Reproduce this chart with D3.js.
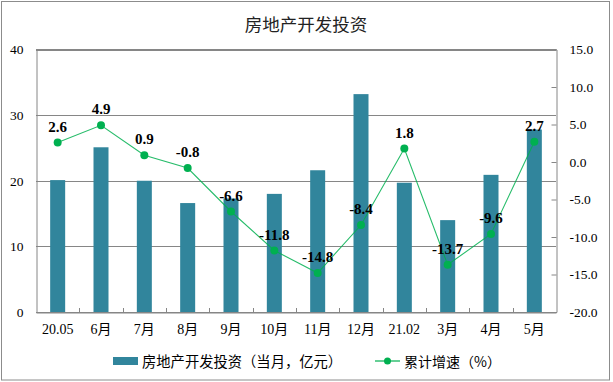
<!DOCTYPE html>
<html><head><meta charset="utf-8">
<script src="https://cdn.jsdelivr.net/npm/d3@7"></script>
<style>
html,body{margin:0;padding:0;background:#fff;}
svg{display:block;}
</style></head>
<body>
<svg id="chart" width="613" height="382"></svg>
<script>
const categories = ["20.05","6月","7月","8月","9月","10月","11月","12月","21.02","3月","4月","5月"];
const investment = [20.1, 25.1, 20.0, 16.6, 17.3, 18.0, 21.6, 33.2, 19.7, 14.0, 20.9, 27.8];
const growth = [2.6, 4.9, 0.9, -0.8, -6.6, -11.8, -14.8, -8.4, 1.8, -13.7, -9.6, 2.7];
const leftTicks = [0, 10, 20, 30, 40];
const rightTicks = [15, 10, 5, 0, -5, -10, -15, -20];
const title = "房地产开发投资";
const barLegend = "房地产开发投资（当月，亿元）";
const lineLegend = "累计增速（%）";

const svg = d3.select("#chart");
const m = {left: 36, right: 556, top: 49.5, bottom: 312};
const numFont = "'Liberation Serif','Times New Roman',serif";
const cjkFont = "'Liberation Serif','Noto Sans CJK SC',serif";
const barColor = "#31859c", lineColor = "#00b050", gridColor = "#868686";

// outer border
svg.append("rect").attr("x",1.5).attr("y",1.5).attr("width",608).attr("height",378.5)
  .attr("fill","#fff").attr("stroke","#8c8c8c").attr("stroke-width",1);

const x = d3.scaleBand().domain(categories).range([m.left, m.right]).paddingInner(0).paddingOuter(0);
const yL = d3.scaleLinear().domain([0,40]).range([m.bottom, m.top]);
const yR = d3.scaleLinear().domain([-20,15]).range([m.bottom, m.top]);

// title
svg.append("text").attr("x",306).attr("y",31).attr("text-anchor","middle")
  .attr("font-family","'Noto Sans CJK SC',sans-serif").attr("font-size",17.5).attr("fill","#222").text(title);

// gridlines
svg.append("g").selectAll("line").data(leftTicks).join("line")
  .attr("x1",m.left).attr("x2",m.right)
  .attr("y1",d=>Math.round(yL(d))+0.5).attr("y2",d=>Math.round(yL(d))+0.5)
  .attr("stroke",gridColor).attr("stroke-width",1);

// bars
const bw = 15;
svg.append("g").selectAll("rect").data(investment).join("rect")
  .attr("x",(d,i)=>x(categories[i]) + x.bandwidth()/2 - bw/2)
  .attr("y",d=>yL(d)).attr("width",bw).attr("height",d=>yL(0)-yL(d))
  .attr("fill",barColor);

// left axis
const axL = d3.axisLeft(yL).tickValues(leftTicks).tickSize(0).tickPadding(13).tickFormat(d3.format("d"));
const gL = svg.append("g").attr("transform",`translate(${m.left+0.5},0)`).call(axL);
gL.select(".domain").attr("stroke",gridColor);
gL.selectAll("text").attr("font-family",numFont).attr("font-size",13.5).attr("fill","#000");

// right axis (inner ticks)
const axR = d3.axisRight(yR).tickValues(rightTicks).tickSize(-5).tickPadding(13).tickFormat(d3.format(".1f"));
const gR = svg.append("g").attr("transform",`translate(${m.right+0.5},0)`).call(axR);
gR.select(".domain").attr("stroke",gridColor);
gR.selectAll(".tick line").attr("stroke",gridColor);
gR.selectAll("text").attr("font-family",numFont).attr("font-size",13.5).attr("fill","#000")
  .text(d=>d3.format(".1f")(d).replace("−","-"));

// bottom axis
const axB = d3.axisBottom(x).tickSize(0).tickPadding(12);
const gB = svg.append("g").attr("transform",`translate(0,${m.bottom+0.5})`).call(axB);
gB.select(".domain").attr("stroke",gridColor);
gB.selectAll("text").attr("font-family",cjkFont).attr("font-size",14).attr("fill","#000");
// inner ticks at category boundaries
svg.append("g").selectAll("line").data(categories.slice(1)).join("line")
  .attr("x1",d=>Math.round(x(d))+0.5).attr("x2",d=>Math.round(x(d))+0.5)
  .attr("y1",m.bottom).attr("y2",m.bottom-4).attr("stroke",gridColor);

// top border of plot
svg.append("line").attr("x1",m.left).attr("x2",m.right+0.5).attr("y1",m.top).attr("y2",m.top).attr("stroke",gridColor);

// line series
const cx = (d,i)=>x(categories[i]) + x.bandwidth()/2;
const line = d3.line().x(cx).y(d=>yR(d));
svg.append("path").datum(growth).attr("d",line).attr("fill","none")
  .attr("stroke",lineColor).attr("stroke-width",1.1).attr("opacity",0.85);
svg.append("g").selectAll("circle").data(growth).join("circle")
  .attr("cx",cx).attr("cy",d=>yR(d)).attr("r",4).attr("fill",lineColor);

// data labels
svg.append("g").selectAll("text").data(growth).join("text")
  .attr("x",cx).attr("y",d=>yR(d)-11).attr("text-anchor","middle")
  .attr("font-family",numFont).attr("font-weight","bold").attr("font-size",15).attr("fill","#000")
  .text(d=>d3.format(".1f")(d).replace("−","-"));

// legend
const lg = svg.append("g");
lg.append("rect").attr("x",113).attr("y",357).attr("width",25).attr("height",8).attr("fill",barColor);
lg.append("text").attr("x",142).attr("y",366.5).attr("font-family","'Noto Sans CJK SC',sans-serif")
  .attr("font-size",14.3).attr("fill","#000").text(barLegend);
lg.append("line").attr("x1",375).attr("x2",400).attr("y1",361).attr("y2",361).attr("stroke",lineColor).attr("stroke-width",1.2);
lg.append("circle").attr("cx",387.5).attr("cy",361).attr("r",3.5).attr("fill",lineColor);
lg.append("text").attr("x",404).attr("y",366.5).attr("font-family","'Noto Sans CJK SC',sans-serif")
  .attr("font-size",14).attr("fill","#000").text(lineLegend);
</script>
</body></html>
